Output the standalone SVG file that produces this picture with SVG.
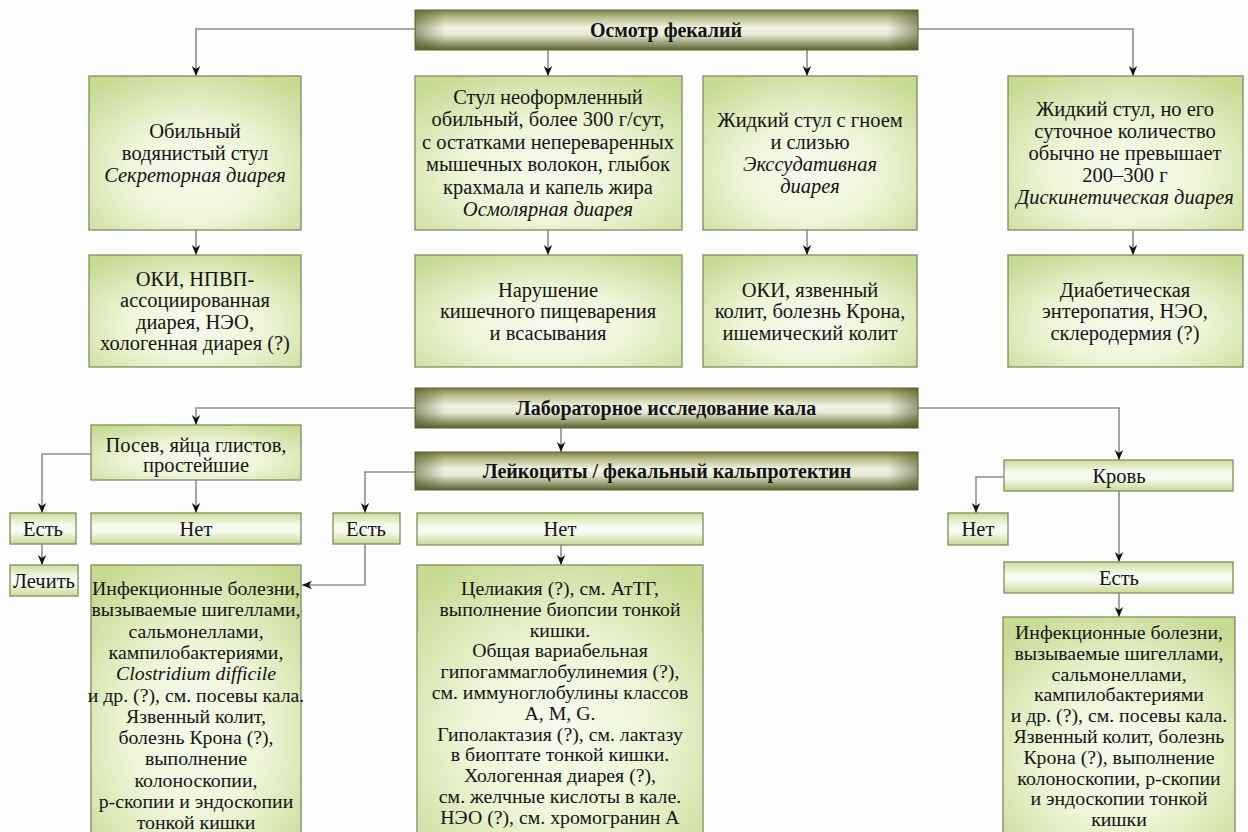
<svg xmlns="http://www.w3.org/2000/svg" width="1248" height="832" viewBox="0 0 1248 832">
<defs>
<radialGradient id="gbox" cx="50%" cy="62%" r="72%">
<stop offset="0" stop-color="#f7faed"/>
<stop offset="0.45" stop-color="#eef5d8"/>
<stop offset="1" stop-color="#c6da92"/>
</radialGradient>
<linearGradient id="gsmall" x1="0" y1="0" x2="0" y2="1">
<stop offset="0" stop-color="#cadd99"/>
<stop offset="0.4" stop-color="#f7faee"/>
<stop offset="0.6" stop-color="#f7faee"/>
<stop offset="1" stop-color="#c8db96"/>
</linearGradient>
<linearGradient id="gbar" x1="0" y1="0" x2="0" y2="1">
<stop offset="0" stop-color="#7c8246"/>
<stop offset="0.18" stop-color="#b7bb8a"/>
<stop offset="0.45" stop-color="#f3f3e6"/>
<stop offset="0.62" stop-color="#e6e8d2"/>
<stop offset="1" stop-color="#5b632d"/>
</linearGradient>
<linearGradient id="gbarside" x1="0" y1="0" x2="1" y2="0">
<stop offset="0" stop-color="#4e5524" stop-opacity="0.55"/>
<stop offset="0.06" stop-color="#4e5524" stop-opacity="0"/>
<stop offset="0.94" stop-color="#4e5524" stop-opacity="0"/>
<stop offset="1" stop-color="#4e5524" stop-opacity="0.55"/>
</linearGradient>
<marker id="ah" markerUnits="userSpaceOnUse" markerWidth="10" markerHeight="10" viewBox="0 0 10 10" refX="10" refY="5" orient="auto">
<path d="M0,0.8 L10,5 L0,9.2 L3,5 z" fill="#111"/>
</marker>
<style>
.box{fill:url(#gbox);stroke:#7f8c5c;stroke-width:1.3}
.sm{fill:url(#gsmall);stroke:#7f8c5c;stroke-width:1.3}
.bar{fill:url(#gbar);stroke:#5d6432;stroke-width:1}
.side{fill:url(#gbarside)}
.t{font-family:"Liberation Serif","Times New Roman",serif;font-size:20.5px;fill:#141414;text-anchor:middle}
.big{font-size:19.8px}
.b{font-weight:bold;font-size:20px}
.i{font-style:italic}
.c{fill:none;stroke:#8e8e8e;stroke-width:1.6;marker-end:url(#ah)}
</style>
</defs>
<rect width="1248" height="832" fill="#fefefe"/>

<g id="connectors">
<path class="c" d="M415,29 H196 V76"/>
<path class="c" d="M918,29 H1133 V76"/>
<path class="c" d="M548,50 V76"/>
<path class="c" d="M807,50 V76"/>
<path class="c" d="M196,230 V255"/>
<path class="c" d="M548,230 V255"/>
<path class="c" d="M807,230 V255"/>
<path class="c" d="M1133,230 V255"/>
<path class="c" d="M415,408 H196 V425"/>
<path class="c" d="M918,408 H1119 V460"/>
<path class="c" d="M561,428 V452"/>
<path class="c" d="M91,454 H42 V513"/>
<path class="c" d="M196,480 V513"/>
<path class="c" d="M42,544 V565"/>
<path class="c" d="M415,472 H365 V513"/>
<path class="c" d="M365,544 V585 H302"/>
<path class="c" d="M561,545 V565"/>
<path class="c" d="M1004,477 H976 V513"/>
<path class="c" d="M1119,491 V562"/>
<path class="c" d="M1119,593 V617"/>
</g>

<g id="n-osmotr">
<rect class="bar" x="415" y="10" width="503" height="40"/>
<rect class="side" x="415" y="10" width="503" height="40"/>
<text class="t b" x="666" y="37">Осмотр фекалий</text>
</g>

<g id="n-secretory">
<rect class="box" x="89" y="76" width="212" height="154"/>
<text class="t" x="195"><tspan x="195" y="138">Обильный</tspan><tspan x="195" y="160">водянистый стул</tspan><tspan class="i" x="195" y="182">Секреторная диарея</tspan></text>
</g>

<g id="n-osmotic">
<rect class="box" x="415" y="76" width="267" height="154"/>
<text class="t" x="548"><tspan x="548" y="103.75">Стул неоформленный</tspan><tspan x="548" y="126.25">обильный, более 300 г/сут,</tspan><tspan x="548" y="148.75">с остатками непереваренных</tspan><tspan x="548" y="171.25">мышечных волокон, глыбок</tspan><tspan x="548" y="193.75">крахмала и капель жира</tspan><tspan class="i" x="548" y="216.25">Осмолярная диарея</tspan></text>
</g>

<g id="n-exudative">
<rect class="box" x="703" y="76" width="214" height="154"/>
<text class="t" x="810"><tspan x="810" y="127">Жидкий стул с гноем</tspan><tspan x="810" y="149">и слизью</tspan><tspan class="i" x="810" y="171">Экссудативная</tspan><tspan class="i" x="810" y="193">диарея</tspan></text>
</g>

<g id="n-dyskinetic">
<rect class="box" x="1008" y="76" width="235" height="154"/>
<text class="t" x="1125"><tspan x="1125" y="116">Жидкий стул, но его</tspan><tspan x="1125" y="138">суточное количество</tspan><tspan x="1125" y="160">обычно не превышает</tspan><tspan x="1125" y="182">200–300 г</tspan><tspan class="i" x="1125" y="204">Дискинетическая диарея</tspan></text>
</g>

<g id="n-oki1">
<rect class="box" x="89" y="255" width="212" height="112"/>
<text class="t" x="195"><tspan x="195" y="285.75">ОКИ, НПВП-</tspan><tspan x="195" y="307.25">ассоциированная</tspan><tspan x="195" y="328.75">диарея, НЭО,</tspan><tspan x="195" y="350.25">хологенная диарея (?)</tspan></text>
</g>

<g id="n-malabs">
<rect class="box" x="415" y="255" width="267" height="112"/>
<text class="t" x="548"><tspan x="548" y="296.5">Нарушение</tspan><tspan x="548" y="318">кишечного пищеварения</tspan><tspan x="548" y="339.5">и всасывания</tspan></text>
</g>

<g id="n-oki2">
<rect class="box" x="703" y="255" width="214" height="112"/>
<text class="t" x="810"><tspan x="810" y="296.5">ОКИ, язвенный</tspan><tspan x="810" y="318">колит, болезнь Крона,</tspan><tspan x="810" y="339.5">ишемический колит</tspan></text>
</g>

<g id="n-diab">
<rect class="box" x="1008" y="255" width="235" height="112"/>
<text class="t" x="1125"><tspan x="1125" y="296.5">Диабетическая</tspan><tspan x="1125" y="318">энтеропатия, НЭО,</tspan><tspan x="1125" y="339.5">склеродермия (?)</tspan></text>
</g>

<g id="n-lab">
<rect class="bar" x="415" y="388" width="503" height="40"/>
<rect class="side" x="415" y="388" width="503" height="40"/>
<text class="t b" x="666" y="415">Лабораторное исследование кала</text>
</g>

<g id="n-leuko">
<rect class="bar" x="415" y="452" width="503" height="38"/>
<rect class="side" x="415" y="452" width="503" height="38"/>
<text class="t b" x="667" y="478">Лейкоциты / фекальный кальпротектин</text>
</g>

<g id="n-posev">
<rect class="box" x="91" y="425" width="210" height="55"/>
<text class="t" x="196"><tspan x="196" y="451.5">Посев, яйца глистов,</tspan><tspan x="196" y="471.5">простейшие</tspan></text>
</g>

<g id="n-est1">
<rect class="sm" x="10" y="513" width="66" height="31"/>
<text class="t" x="43" y="535.5">Есть</text>
</g>

<g id="n-net1">
<rect class="sm" x="91" y="513" width="210" height="31"/>
<text class="t" x="196" y="535.5">Нет</text>
</g>

<g id="n-lechit">
<rect class="sm" x="10" y="565" width="68" height="31"/>
<text class="t" x="44" y="588">Лечить</text>
</g>

<g id="n-est2">
<rect class="sm" x="333" y="513" width="67" height="31"/>
<text class="t" x="366" y="535.5">Есть</text>
</g>

<g id="n-net2">
<rect class="sm" x="417" y="513" width="286" height="32"/>
<text class="t" x="560" y="536">Нет</text>
</g>

<g id="n-krov">
<rect class="sm" x="1004" y="460" width="229" height="31"/>
<text class="t" x="1119" y="483">Кровь</text>
</g>

<g id="n-net3">
<rect class="sm" x="948" y="513" width="60" height="32"/>
<text class="t" x="978" y="536">Нет</text>
</g>

<g id="n-est3">
<rect class="sm" x="1004" y="562" width="229" height="31"/>
<text class="t" x="1119" y="585">Есть</text>
</g>

<g id="n-infect1">
<rect class="box" x="91" y="565" width="210" height="270"/>
<text class="t big" x="196"><tspan x="196" y="595">Инфекционные болезни,</tspan><tspan x="196" y="616.3">вызываемые шигеллами,</tspan><tspan x="196" y="637.6">сальмонеллами,</tspan><tspan x="196" y="658.9">кампилобактериями,</tspan><tspan class="i" x="196" y="680.2">Clostridium difficile</tspan><tspan x="196" y="701.5">и др. (?), см. посевы кала.</tspan><tspan x="196" y="722.8">Язвенный колит,</tspan><tspan x="196" y="744.1">болезнь Крона (?),</tspan><tspan x="196" y="765.4">выполнение</tspan><tspan x="196" y="786.7">колоноскопии,</tspan><tspan x="196" y="808">р-скопии и эндоскопии</tspan><tspan x="196" y="829.3">тонкой кишки</tspan></text>
</g>

<g id="n-celiac">
<rect class="box" x="417" y="565" width="286" height="270"/>
<text class="t big" x="560"><tspan x="560" y="595">Целиакия (?), см. АтТГ,</tspan><tspan x="560" y="615.8">выполнение биопсии тонкой</tspan><tspan x="560" y="636.6">кишки.</tspan><tspan x="560" y="657.4">Общая вариабельная</tspan><tspan x="560" y="678.2">гипогаммаглобулинемия (?),</tspan><tspan x="560" y="699">см. иммуноглобулины классов</tspan><tspan x="560" y="719.8">А, M, G.</tspan><tspan x="560" y="740.6">Гиполактазия (?), см. лактазу</tspan><tspan x="560" y="761.4">в биоптате тонкой кишки.</tspan><tspan x="560" y="782.2">Хологенная диарея (?),</tspan><tspan x="560" y="803">см. желчные кислоты в кале.</tspan><tspan x="560" y="823.8">НЭО (?), см. хромогранин А</tspan></text>
</g>

<g id="n-infect2">
<rect class="box" x="1003" y="617" width="232" height="218"/>
<text class="t big" x="1119"><tspan x="1119" y="639">Инфекционные болезни,</tspan><tspan x="1119" y="659.8">вызываемые шигеллами,</tspan><tspan x="1119" y="680.6">сальмонеллами,</tspan><tspan x="1119" y="701.4">кампилобактериями</tspan><tspan x="1119" y="722.2">и др. (?), см. посевы кала.</tspan><tspan x="1119" y="743">Язвенный колит, болезнь</tspan><tspan x="1119" y="763.8">Крона (?), выполнение</tspan><tspan x="1119" y="784.6">колоноскопии, р-скопии</tspan><tspan x="1119" y="805.4">и эндоскопии тонкой</tspan><tspan x="1119" y="826.2">кишки</tspan></text>
</g>
</svg>
